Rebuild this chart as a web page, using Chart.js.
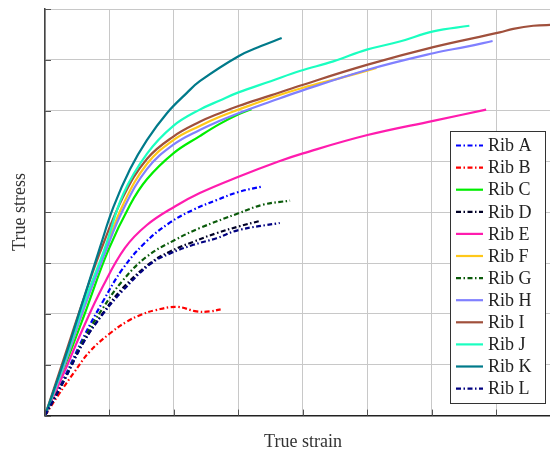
<!DOCTYPE html>
<html>
<head>
<meta charset="utf-8">
<script src="https://cdn.jsdelivr.net/npm/chart.js@4/dist/chart.umd.min.js"></script>
<style>html,body{margin:0;padding:0;background:#fff;}canvas{display:block;}</style>
</head>
<body>
<canvas id="c" width="550" height="453"></canvas>
<script>
// Data (grid units, no tick labels in the original)
const labels = ["Rib A","Rib B","Rib C","Rib D","Rib E","Rib F","Rib G","Rib H","Rib I","Rib J","Rib K","Rib L"];
const ribA = [[0,0],[0.3,0.75],[0.6,1.55],[0.9,2.25],[1.2,2.88],[1.55,3.40],[1.94,3.80],[2.30,4.05],[2.66,4.24],[3.0,4.40],[3.38,4.51]];
const ribB = [[0,0],[0.21,0.41],[0.44,0.83],[0.70,1.27],[1.01,1.62],[1.27,1.85],[1.5,1.99],[1.7,2.07],[2.04,2.14],[2.35,2.05],[2.55,2.05],[2.76,2.10]];
const ribC = [[0,0],[0.3,0.95],[0.6,1.95],[0.98,3.25],[1.32,4.15],[1.58,4.65],[1.99,5.16],[2.40,5.5],[2.71,5.74],[3.0,5.93],[3.2,6.03]];
const ribD = [[0,0],[0.3,0.7],[0.6,1.45],[0.9,2.02],[1.2,2.5],[1.63,3.0],[1.94,3.23],[2.30,3.42],[2.66,3.59],[3.0,3.72],[3.33,3.83]];
const ribE = [[0,0],[0.3,0.86],[0.59,1.72],[0.9,2.55],[1.24,3.3],[1.58,3.75],[2.02,4.12],[2.40,4.38],[3.0,4.70],[3.62,5.0],[4.0,5.16],[5.0,5.52],[6.02,5.80],[6.84,6.02]];
const ribF = [[0,0],[0.3,1.0],[0.6,2.1],[0.93,3.25],[1.21,4.15],[1.58,4.95],[1.99,5.42],[2.40,5.70],[2.71,5.88],[3.0,6.02],[3.5,6.25],[4.0,6.45],[4.6,6.65],[5.14,6.84]];
const ribG = [[0,0],[0.3,0.72],[0.6,1.5],[0.9,2.12],[1.2,2.65],[1.58,3.13],[2.02,3.46],[2.40,3.69],[3.0,3.98],[3.38,4.15],[3.80,4.23]];
const ribH = [[0,0],[0.3,1.0],[0.6,2.1],[0.93,3.2],[1.21,4.05],[1.58,4.85],[1.99,5.33],[2.40,5.62],[2.71,5.80],[3.0,5.95],[3.5,6.18],[3.95,6.38],[4.99,6.80],[6.02,7.13],[6.54,7.26],[6.94,7.37]];
const ribI = [[0,0],[0.3,1.15],[0.6,2.3],[0.85,3.2],[1.21,4.3],[1.58,5.05],[1.99,5.49],[2.40,5.78],[2.71,5.95],[3.0,6.09],[3.5,6.30],[3.95,6.49],[4.99,6.90],[6.02,7.25],[7.05,7.54],[7.26,7.61],[7.57,7.67],[7.9,7.69]];
const ribJ = [[0,0],[0.3,1.05],[0.6,2.2],[0.93,3.3],[1.21,4.35],[1.58,5.15],[1.99,5.7],[2.40,6.02],[2.71,6.2],[3.0,6.36],[3.5,6.58],[3.95,6.78],[4.47,6.97],[4.99,7.20],[5.50,7.36],[6.02,7.56],[6.58,7.67]];
const ribK = [[0,0],[0.3,1.1],[0.6,2.3],[0.85,3.3],[1.06,4.1],[1.32,4.85],[1.58,5.42],[1.89,5.95],[2.20,6.35],[2.40,6.58],[3.0,7.07],[3.35,7.27],[3.67,7.43]];
const ribL = [[0,0],[0.3,0.7],[0.6,1.45],[0.9,2.0],[1.2,2.45],[1.63,2.98],[1.94,3.19],[2.30,3.36],[2.66,3.49],[3.0,3.65],[3.64,3.79]];
const xTicks = [0,1,2,3,4,5,6,7];
const yTicks = [0,1,2,3,4,5,6,7,8];

const series = [ribA,ribB,ribC,ribD,ribE,ribF,ribG,ribH,ribI,ribJ,ribK,ribL];
const colors = ["#0000ff","#ff0000","#00ee00","#000026","#ff1cae","#ffc81a","#0a5a0a","#8080ff","#a0503c","#1affc0","#007a8a","#000080"];
const dashed = [true,true,false,true,false,false,true,false,false,false,false,true];
const DASH = [5,2.5,1.5,2.5];

const datasets = series.map((s,i)=>({
  label: labels[i],
  data: s.map(p=>({x:p[0],y:p[1]})),
  borderColor: colors[i],
  backgroundColor: colors[i],
  borderWidth: 2.2,
  borderDash: dashed[i] ? DASH : [],
  pointRadius: 0,
  fill: false,
  tension: 0.4,
  order: series.length - i
}));

const FONT = '"Liberation Serif", "DejaVu Serif", serif';

const deco = {
  id: 'deco',
  afterDatasetsDraw(chart){
    const ctx = chart.ctx, xs = chart.scales.x, ys = chart.scales.y, ca = chart.chartArea;
    ctx.save();
    // inward tick marks
    ctx.strokeStyle = '#555';
    ctx.lineWidth = 1;
    ctx.beginPath();
    yTicks.forEach(v=>{ const py = Math.round(ys.getPixelForValue(v))+0.5; ctx.moveTo(ca.left, py); ctx.lineTo(ca.left+6, py); });
    xTicks.forEach(v=>{ const px = Math.round(xs.getPixelForValue(v))+0.5; ctx.moveTo(px, ca.bottom); ctx.lineTo(px, ca.bottom-6); });
    ctx.stroke();
    // legend
    const bx = 450.5, by = 131.5, bw = 95, bh = 272;
    ctx.fillStyle = '#fff';
    ctx.fillRect(bx, by, bw, bh);
    ctx.strokeStyle = '#333';
    ctx.lineWidth = 1;
    ctx.strokeRect(bx, by, bw, bh);
    ctx.font = '18px ' + FONT;
    ctx.textBaseline = 'middle';
    ctx.textAlign = 'left';
    labels.forEach((lab,i)=>{
      const y = 145.5 + 22.1*i;
      ctx.beginPath();
      ctx.strokeStyle = colors[i];
      ctx.lineWidth = 2.2;
      ctx.setLineDash(dashed[i] ? DASH : []);
      ctx.moveTo(456, y); ctx.lineTo(483, y);
      ctx.stroke();
      ctx.setLineDash([]);
      ctx.fillStyle = '#222';
      ctx.fillText(lab, 488, y+1);
    });
    // axis titles
    ctx.fillStyle = '#333';
    ctx.font = '18px ' + FONT;
    ctx.textAlign = 'center';
    ctx.textBaseline = 'middle';
    ctx.fillText('True strain', 303, 442);
    ctx.translate(20, 212);
    ctx.rotate(-Math.PI/2);
    ctx.fillText('True stress', 0, 0);
    ctx.restore();
  }
};

new Chart(document.getElementById('c'), {
  type: 'line',
  data: { datasets },
  options: {
    responsive: false,
    animation: false,
    layout: { padding: { top: 9, right: 0, left: 0, bottom: 0 } },
    plugins: { legend: { display: false }, tooltip: { enabled: false } },
    scales: {
      x: {
        type: 'linear', min: 0, max: 7.83,
        afterFit(s){ s.height = 37.4; },
        afterBuildTicks(s){ s.ticks = xTicks.map(v=>({value:v})); },
        ticks: { display: false },
        grid: { color: '#c8c8c8', lineWidth: 1, drawTicks: false },
        border: { display: true, color: '#222', width: 1.5 }
      },
      y: {
        type: 'linear', min: 0, max: 8,
        afterFit(s){ s.width = 45; },
        afterBuildTicks(s){ s.ticks = yTicks.map(v=>({value:v})); },
        ticks: { display: false },
        grid: { color: '#c8c8c8', lineWidth: 1, drawTicks: false },
        border: { display: true, color: '#444', width: 1.5 }
      }
    }
  },
  plugins: [deco]
});
</script>
</body>
</html>
